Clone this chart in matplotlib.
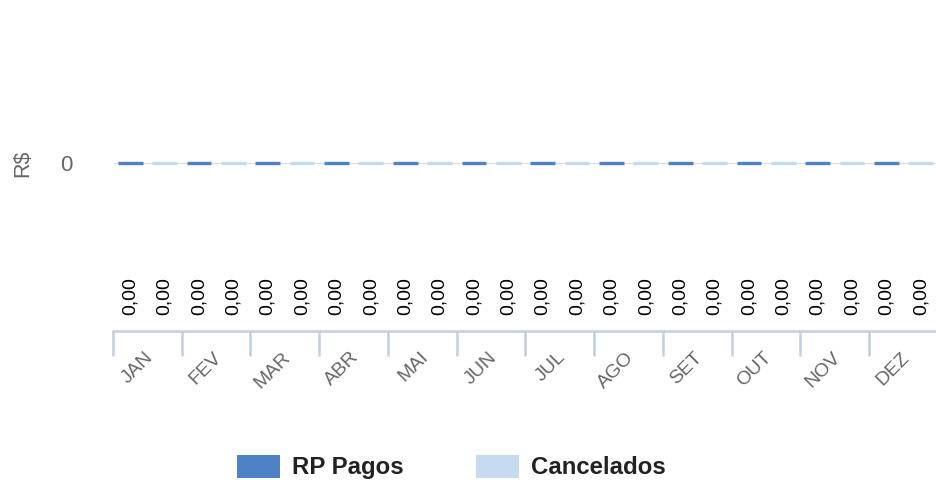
import matplotlib
matplotlib.use("Agg")
import matplotlib.pyplot as plt
import matplotlib.transforms as mtransforms
from matplotlib.patches import Patch
import numpy as np

plt.rcParams['font.family'] = ['Liberation Sans', 'DejaVu Sans']

categories = ["JAN", "FEV", "MAR", "ABR", "MAI", "JUN", "JUL", "AGO", "SET", "OUT", "NOV", "DEZ"]
rp_pagos = [0, 0, 0, 0, 0, 0, 0, 0, 0, 0, 0, 0]
cancelados = [0, 0, 0, 0, 0, 0, 0, 0, 0, 0, 0, 0]
series_names = ["RP Pagos", "Cancelados"]
series_colors = ["#4f81c5", "#c6daf0"]
y_label = "R$"

W, H = 937, 480
fig = plt.figure(figsize=(W / 100, H / 100), dpi=100)
ax = fig.add_axes([113 / W, (H - 331) / H, 825 / W, 331 / H])

x = np.arange(len(categories))
off = 0.25
bw = 0.36
for vals, dx, col in [(rp_pagos, -off, series_colors[0]), (cancelados, off, series_colors[1])]:
    ax.bar(x + dx, vals, width=bw, color=col, edgecolor=col, linewidth=2.4, zorder=3)

ax.axhline(0, color="#dcdcdc", lw=0.8, zorder=1)

ax.set_xlim(-0.5, len(categories) - 0.5)
ax.set_ylim(-1, 0.97)

for s in ["top", "right", "left"]:
    ax.spines[s].set_visible(False)
ax.spines["bottom"].set_color("#c0d0e0")
ax.spines["bottom"].set_linewidth(1.8)

ax.set_xticks(np.arange(len(categories) + 1) - 0.5)
ax.set_xticklabels([])
ax.tick_params(axis="x", length=18, width=1.8, color="#c0d0e0", direction="out")

ax.set_yticks([0])
ax.set_yticklabels(["0"])
ax.tick_params(axis="y", length=0, pad=29, labelsize=16, labelcolor="#666666")

# category labels
lab_tr = mtransforms.blended_transform_factory(ax.transData, ax.transAxes) + \
    mtransforms.ScaledTranslation(6 / 100, -27 / 100, fig.dpi_scale_trans)
for i, c in enumerate(categories):
    ax.text(i, 0, c, transform=lab_tr, rotation=45, rotation_mode="anchor",
            ha="right", va="baseline", fontsize=14, color="#666666")

# data labels
dl_tr = mtransforms.blended_transform_factory(ax.transData, ax.transAxes)
for vals, dx in [(rp_pagos, -off), (cancelados, off)]:
    for i, v in enumerate(vals):
        ax.text(i + dx, 16 / 331, f"{v:.2f}".replace(".", ","), transform=dl_tr,
                rotation=90, ha="center", va="bottom", fontsize=14, color="#000000")

fig.text(23 / W, (H - 163) / H, y_label, rotation=90, ha="center", va="center",
         fontsize=15.5, color="#666666")

handles = [Patch(facecolor=series_colors[0], edgecolor="none"),
           Patch(facecolor=series_colors[1], edgecolor="none")]
leg = fig.legend(handles, series_names, loc="center left",
                 bbox_to_anchor=(237 / W, (H - 467) / H), ncol=2, frameon=False,
                 borderpad=0, borderaxespad=0, handlelength=1.77, handleheight=1.1,
                 handletextpad=0.53, columnspacing=3.0,
                 prop={"weight": "bold", "size": 17.3})
for t in leg.get_texts():
    t.set_color("#222222")

fig.savefig("out.png", dpi=100)
